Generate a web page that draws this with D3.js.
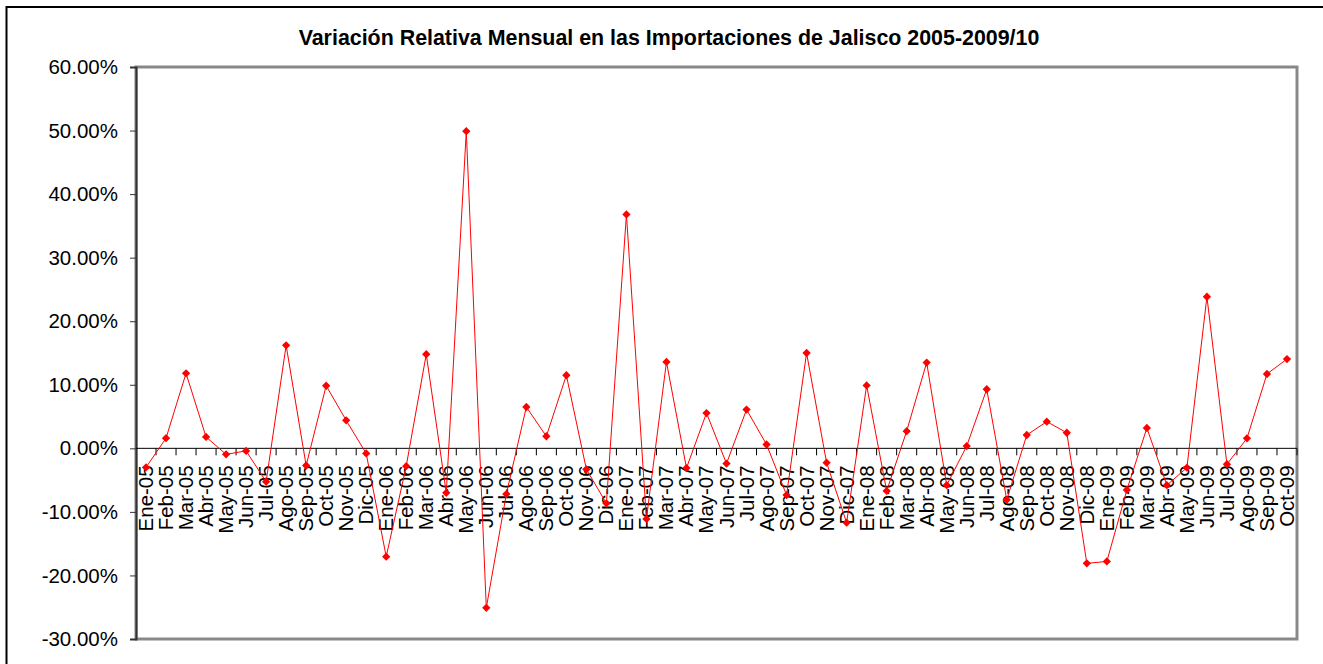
<!DOCTYPE html>
<html>
<head>
<meta charset="utf-8">
<script src="https://cdn.jsdelivr.net/npm/d3@7"></script>
<style>
  body { margin: 0; background: #fff; }
  svg { display: block; font-family: Arial, "Liberation Sans", sans-serif; }
</style>
</head>
<body>
<div id="app"></div>
<script>
const title = "Variación Relativa Mensual en las Importaciones de Jalisco 2005-2009/10";

const months = [
  "Ene-05", "Feb-05", "Mar-05", "Abr-05", "May-05", "Jun-05", "Jul-05", "Ago-05", "Sep-05", "Oct-05", "Nov-05", "Dic-05",
  "Ene-06", "Feb-06", "Mar-06", "Abr-06", "May-06", "Jun-06", "Jul-06", "Ago-06", "Sep-06", "Oct-06", "Nov-06", "Dic-06",
  "Ene-07", "Feb-07", "Mar-07", "Abr-07", "May-07", "Jun-07", "Jul-07", "Ago-07", "Sep-07", "Oct-07", "Nov-07", "Dic-07",
  "Ene-08", "Feb-08", "Mar-08", "Abr-08", "May-08", "Jun-08", "Jul-08", "Ago-08", "Sep-08", "Oct-08", "Nov-08", "Dic-08",
  "Ene-09", "Feb-09", "Mar-09", "Abr-09", "May-09", "Jun-09", "Jul-09", "Ago-09", "Sep-09", "Oct-09"
];

// variación relativa mensual (%)
const variacion = [
  -3.0, 1.6, 11.8, 1.8, -0.95, -0.4, -5.25, 16.2, -2.7, 9.85, 4.4, -0.8,
  -17.05, -2.8, 14.8, -7.0, 49.9, -25.1, -7.2, 6.5, 1.9, 11.5, -3.3, -8.65,
  36.8, -11.1, 13.6, -3.1, 5.55, -2.4, 6.1, 0.6, -7.35, 15.0, -2.25, -11.7,
  9.9, -6.7, 2.7, 13.5, -5.8, 0.36, 9.3, -8.1, 2.1, 4.2, 2.45, -18.1,
  -17.8, -6.55, 3.2, -5.8, -3.05, 23.85, -2.5, 1.57, 11.7, 14.05
];

const yTicks = [-30, -20, -10, 0, 10, 20, 30, 40, 50, 60];

const width = 1323;
const height = 664;
const plot = { left: 136, right: 1297, top: 67, bottom: 639 };

const svg = d3.select("#app").append("svg")
  .attr("width", width)
  .attr("height", height);

// outer chart border
svg.append("rect")
  .attr("x", 6.5).attr("y", 7)
  .attr("width", 1330).attr("height", 700)
  .attr("fill", "none")
  .attr("stroke", "#000")
  .attr("stroke-width", 2);

svg.append("text")
  .attr("x", 669)
  .attr("y", 45)
  .attr("text-anchor", "middle")
  .style("font-size", "21.4px")
  .style("font-weight", "bold")
  .text(title);

const x = d3.scaleBand()
  .domain(months)
  .range([plot.left, plot.right]);

const y = d3.scaleLinear()
  .domain([-30, 60])
  .range([plot.bottom, plot.top]);

// plot area frame (gray)
svg.append("rect")
  .attr("x", plot.left)
  .attr("y", plot.top)
  .attr("width", plot.right - plot.left)
  .attr("height", plot.bottom - plot.top)
  .attr("fill", "none")
  .attr("stroke", "#888")
  .attr("stroke-width", 3);

// y axis
const yAxis = svg.append("g")
  .attr("transform", `translate(${plot.left},0)`)
  .call(d3.axisLeft(y).tickValues(yTicks).tickSize(6).tickPadding(12)
    .tickFormat(d => d.toFixed(2) + "%"));
yAxis.select(".domain").attr("stroke", "#333").attr("stroke-width", 2);
yAxis.selectAll(".tick line").attr("stroke", "#333");
yAxis.selectAll("text")
  .style("font-size", "20.5px")
  .attr("fill", "#000")
  .style("font-family", "Arial, 'Liberation Sans', sans-serif");

// x axis at zero line, ticks between categories
const xAxis = svg.append("g")
  .attr("transform", `translate(0,${y(0)})`);
xAxis.append("line")
  .attr("x1", plot.left).attr("x2", plot.right)
  .attr("stroke", "#000");
xAxis.selectAll(".sep")
  .data(months)
  .join("line")
  .attr("class", "sep")
  .attr("x1", d => x(d) + x.bandwidth())
  .attr("x2", d => x(d) + x.bandwidth())
  .attr("y1", 0).attr("y2", 7)
  .attr("stroke", "#000");
xAxis.selectAll(".lbl")
  .data(months)
  .join("text")
  .attr("class", "lbl")
  .attr("transform", d => `translate(${x(d) + x.bandwidth() / 2 + 7},17) rotate(-90)`)
  .attr("text-anchor", "end")
  .style("font-size", "20.5px")
  .text(d => d);

// series
const pts = months.map((m, i) => [x(m) + x.bandwidth() / 2, y(variacion[i])]);

svg.append("path")
  .attr("d", d3.line()(pts))
  .attr("fill", "none")
  .attr("stroke", "#ff0000")
  .attr("stroke-width", 1);

svg.selectAll(".mk")
  .data(pts)
  .join("path")
  .attr("class", "mk")
  .attr("transform", d => `translate(${d[0]},${d[1]})`)
  .attr("d", d3.symbol(d3.symbolDiamond2, 44)())
  .attr("fill", "#ff0000");
</script>
</body>
</html>
